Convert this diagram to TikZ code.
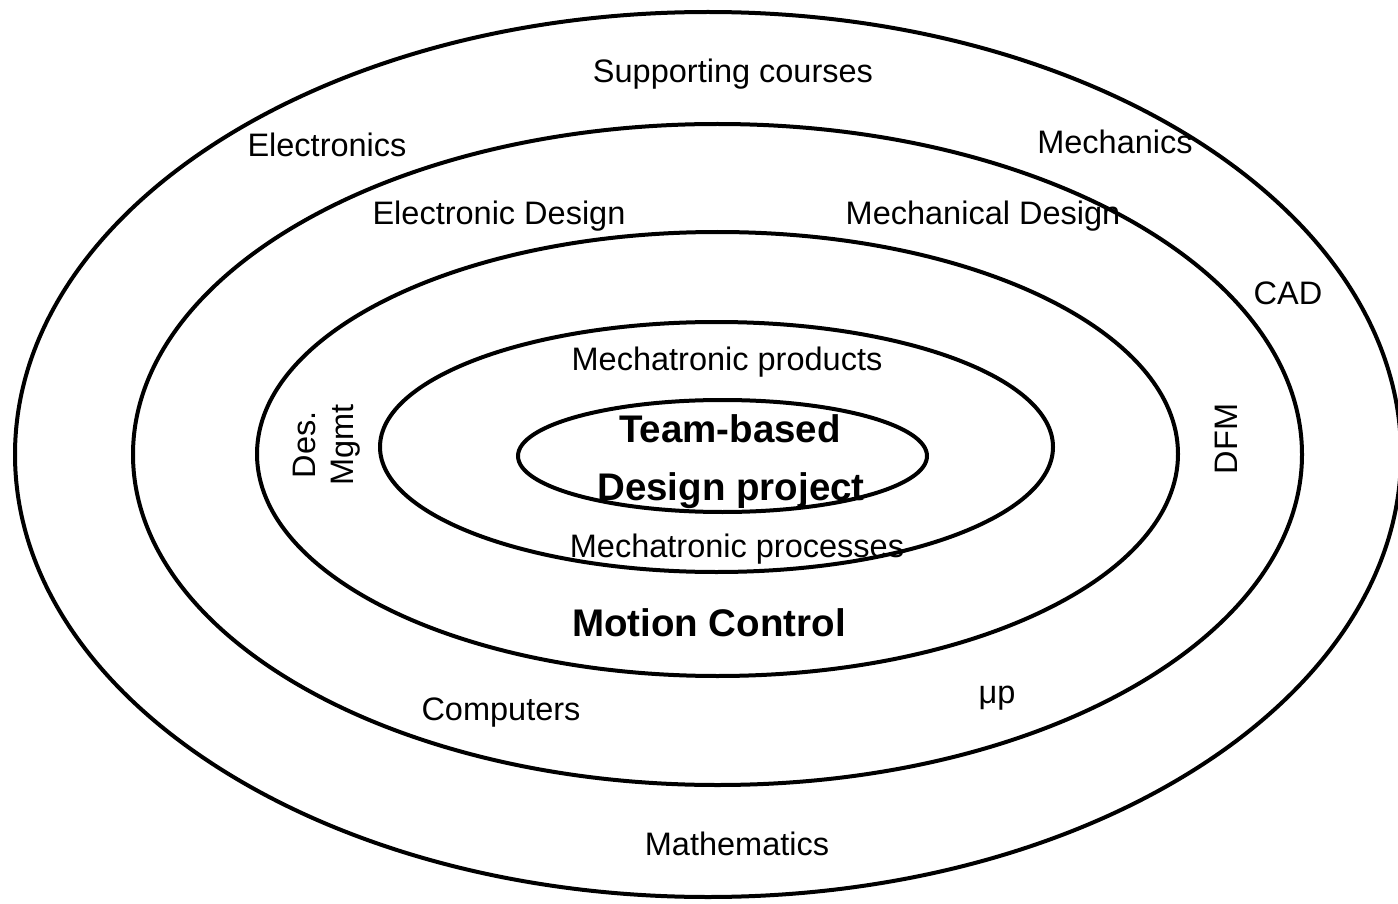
\documentclass[tikz,border=0pt]{standalone}
\usepackage{fontspec}
\setmainfont{Liberation Sans}
\usetikzlibrary{shapes.geometric}
\begin{document}
\begin{tikzpicture}[x=1pt,y=-1pt,
  ring/.style={draw, ellipse, line width=4pt, inner sep=0pt},
  lbl/.style={font=\fontsize{32.5}{38}\selectfont, anchor=base, inner sep=0pt},
  blbl/.style={font=\fontsize{38.5}{46}\selectfont\bfseries, anchor=base, inner sep=0pt}]
\useasboundingbox (0,0) rectangle (1398,904);
% rings
\node[ring, minimum width=1386pt, minimum height=885pt] (r1) at (708,454.5) {};
\node[ring, minimum width=1169pt, minimum height=661pt] (r2) at (717.5,454.5) {};
\node[ring, minimum width=921pt, minimum height=444pt] (r3) at (717.5,454) {};
\node[ring, minimum width=673pt, minimum height=250pt] (r4) at (716.5,447) {};
\node[ring, minimum width=409pt, minimum height=112pt] (r5) at (722.5,456) {};
% labels
\node[lbl] (sup) at (733,83) {Supporting courses};
\node[lbl] (elx) at (327,157) {Electronics};
\node[lbl] (mex) at (1115,154) {Mechanics};
\node[lbl] (eld) at (499,225) {Electronic Design};
\node[lbl] (med) at (983,225) {Mechanical Design};
\node[lbl] (cad) at (1288,304) {CAD};
\node[lbl] (mpr) at (727,370) {Mechatronic products};
\node[lbl] (mps) at (737,557) {Mechatronic processes};
\node[lbl] (cmp) at (501,720) {Computers};
\node[lbl] (mup) at (997,703) {μp};
\node[lbl] (mat) at (737,855) {Mathematics};
\node[blbl] (mc) at (709,636) {Motion Control};
\node[blbl] (tb) at (730,442) {Team-based};
\node[blbl] (dp) at (731,500) {Design project};
\node[lbl, rotate=90] (des) at (315,445) {Des.};
\node[lbl, rotate=90] (mg) at (353,445) {Mgmt};
\node[lbl, rotate=90] (dfm) at (1237,439) {DFM};
\end{tikzpicture}
\end{document}
